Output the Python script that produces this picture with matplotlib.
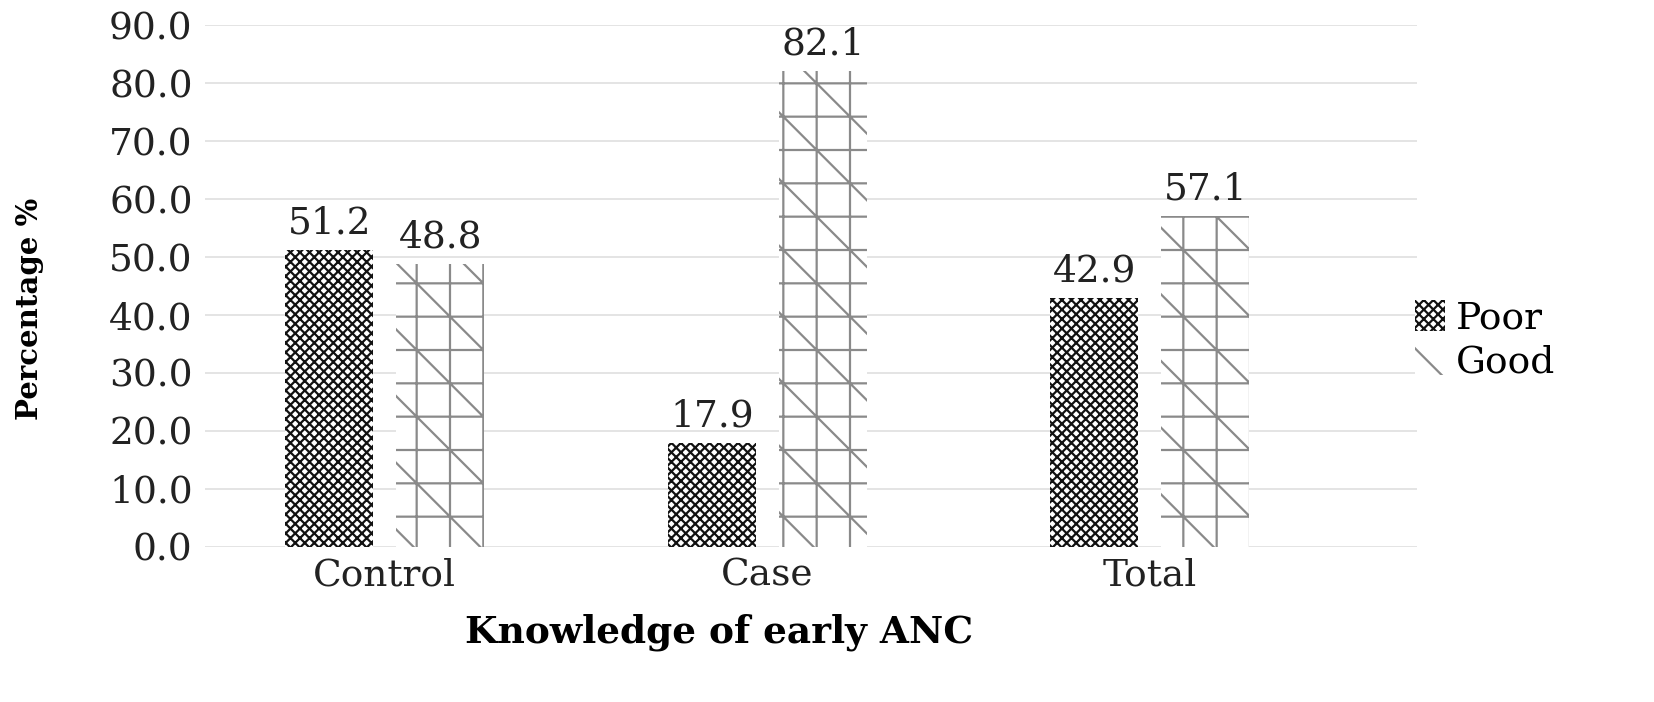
import matplotlib
matplotlib.use("Agg")
import matplotlib.pyplot as plt
import matplotlib.patches as mpatches
import numpy as np

# data
groups = ["Control", "Case", "Total"]
poor = [51.2, 17.9, 42.9]
good = [48.8, 82.1, 57.1]
y_ticks = [0, 10, 20, 30, 40, 50, 60, 70, 80, 90]

plt.rcParams['font.family'] = ['DejaVu Serif']
plt.rcParams['hatch.linewidth'] = 0.8

# drawn at dpi 200 so the hatch spacing comes out wider
fig = plt.figure(figsize=(8.27, 3.51), dpi=200)
ax = fig.add_axes([0.124, 0.221, 0.733, 0.743])

x = np.arange(len(groups))
w = 0.23
off = 0.145

b1 = ax.bar(x - off, poor, w, color='white', edgecolor='#111111',
            hatch='xxxxxxx', linewidth=0, zorder=3)
b2 = ax.bar(x + off, good, w, color='white', edgecolor='#8a8a8a',
            hatch='+\\', linewidth=0, zorder=3)

# value labels
for bars, vals in ((b1, poor), (b2, good)):
    for rect, v in zip(bars, vals):
        ax.annotate("%.1f" % v, (rect.get_x() + rect.get_width() / 2, v),
                    xytext=(0, 3), textcoords='offset points',
                    ha='center', va='bottom', fontsize=13.5, color='#222222')

ax.set_ylim(0, 90)
ax.set_xlim(-0.47, 2.70)
ax.set_yticks(y_ticks)
ax.set_yticklabels(["%.1f" % t for t in y_ticks])
ax.set_xticks(x)
ax.set_xticklabels(groups)
ax.tick_params(axis='both', length=0, labelsize=13.5, colors='#222222')
ax.tick_params(axis='x', pad=4)
ax.tick_params(axis='y', pad=4.5)

ax.yaxis.grid(True, color='#dcdcdc', linewidth=0.55, zorder=0)
ax.set_axisbelow(True)
for s in ax.spines.values():
    s.set_visible(False)

# labels placed on the figure like the original layout
fig.text(0.435, 0.10, "Knowledge of early ANC", ha='center', va='center',
         fontsize=13.5, fontweight='bold')
fig.text(0.018, 0.56, "Percentage %", ha='center', va='center',
         rotation=90, fontsize=10.5, fontweight='bold')

h1 = mpatches.Patch(facecolor='white', edgecolor='#111111', hatch='xxxxxxx', linewidth=0)
h2 = mpatches.Patch(facecolor='white', edgecolor='#8a8a8a', hatch='\\', linewidth=0)
fig.legend([h1, h2], ["Poor", "Good"], loc='center left',
           bbox_to_anchor=(0.835, 0.516), frameon=False, fontsize=13.5,
           handlelength=0.8, handleheight=0.9, handletextpad=0.3,
           labelspacing=0.2)

fig.savefig("out.png", dpi=200)
